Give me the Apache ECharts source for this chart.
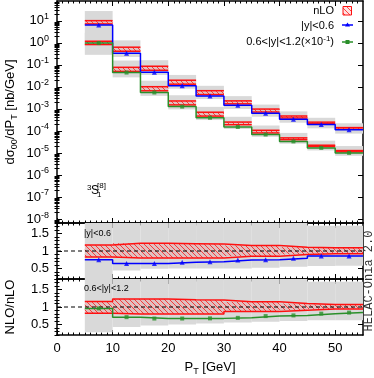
<!DOCTYPE html>
<html>
<head>
<meta charset="utf-8">
<script src="https://cdn.jsdelivr.net/npm/echarts@6/dist/echarts.min.js"></script>
<style>
  html, body { margin: 0; padding: 0; background: #fff; }
  #chart { width: 374px; height: 378px; }
</style>
</head>
<body>
<div id="chart"></div>
<script>
// PT bins (GeV)
var edges = [5, 10, 15, 20, 25, 30, 35, 40, 45, 50, 55];

// nLO central values, dsigma00/dPT in nb/GeV (second rapidity bin already x 1e-1)
var nloCentralA = [8.7, 0.52, 0.071, 0.0166, 0.0056, 0.0020, 8.5e-4, 4.3e-4, 2.3e-4, 1.3e-4];
var nloCentralB = [1.02, 0.063, 0.0083, 0.0019, 5.9e-4, 2.2e-4, 9.3e-5, 4.4e-5, 2.1e-5, 1.2e-5];

// |y|<0.6, everything relative to nLO central
var nloLowA   = [0.83, 0.80, 0.80, 0.80, 0.80, 0.85, 0.85, 0.90, 0.92, 0.92];
var nloHighA  = [1.17, 1.22, 1.22, 1.21, 1.20, 1.16, 1.16, 1.11, 1.09, 1.09];
var nlo2A     = [0.75, 0.645, 0.645, 0.68, 0.69, 0.74, 0.75, 0.79, 0.86, 0.86];
var grayLowA  = [0.15, 0.44, 0.49, 0.50, 0.50, 0.50, 0.52, 0.55, 0.57, 0.58];
var grayHighA = [3.2, 2.5, 2.3, 2.1, 2.0, 1.9, 1.85, 1.8, 1.72, 1.72];

// 0.6<|y|<1.2
var nloLowB   = [0.82, 0.80, 0.80, 0.80, 0.80, 0.87, 0.87, 0.91, 0.94, 0.94];
var nloHighB  = [1.16, 1.23, 1.23, 1.21, 1.20, 1.15, 1.15, 1.10, 1.07, 1.07];
var nlo2B     = [0.96, 0.71, 0.67, 0.67, 0.675, 0.69, 0.74, 0.76, 0.81, 0.84];
var grayLowB  = [0.28, 0.43, 0.47, 0.50, 0.53, 0.56, 0.58, 0.60, 0.62, 0.62];
var grayHighB = [2.8, 2.5, 2.3, 2.2, 2.1, 2.0, 1.9, 1.85, 1.72, 1.72];

// axis ticks
var ptTicks = [0, 10, 20, 30, 40, 50];
var logTicks = [1e-8, 1e-7, 1e-6, 1e-5, 1e-4, 1e-3, 1e-2, 1e-1, 1, 10];
var ratioTicks = [0.5, 1, 1.5];

var font = 'Liberation Sans';
var RED = '#ff1010', BLUE = '#0000ff', GREEN = '#2a8f2a', GRAY = '#d9d9d9';

var chart = echarts.init(document.getElementById('chart'));

function hatch() {
  var c = document.createElement('canvas');
  c.width = 5; c.height = 5;
  var g = c.getContext('2d');
  g.fillStyle = 'rgba(255,60,60,0.16)';
  g.fillRect(0, 0, 5, 5);
  g.strokeStyle = 'rgba(255,0,0,0.7)';
  g.lineWidth = 1;
  g.beginPath();
  g.moveTo(-1, -1); g.lineTo(6, 6);
  g.moveTo(-3.5, 1.5); g.lineTo(3.5, 8.5);
  g.moveTo(1.5, -3.5); g.lineTo(8.5, 3.5);
  g.stroke();
  return c;
}
var hatchFill = { image: hatch(), repeat: 'repeat' };

function times(a, b) { return a.map(function (v, i) { return v * b[i]; }); }
function stepData(vals) {
  return edges.map(function (x, i) { return [x, vals[Math.min(i, vals.length - 1)]]; });
}
var centers = edges.slice(0, -1).map(function (e, i) { return (e + edges[i + 1]) / 2; });

// ---- axes: 3 stacked grids, each with major + minor ticks on all 4 sides
var xAxes = [], yAxes = [];
var ptMinor = [];
for (var k = 1; k < 55; k++) if (k % 10) ptMinor.push(k);
var logMinor = [];
for (var n = -9; n <= 1; n++) for (var m = 2; m <= 9; m++) logMinor.push(+(m * Math.pow(10, n)).toPrecision(3));
var ratioMinor = [];
for (var r = 2; r <= 18; r++) if (r % 5) ratioMinor.push(r / 10);

function addX(g, labels) {
  ['bottom', 'top'].forEach(function (pos) {
    xAxes.push({
      type: 'value', gridIndex: g, position: pos, min: 0, max: 55,
      axisLine: { show: true, onZero: false, lineStyle: { color: '#000', width: 1.5 } },
      axisTick: { show: true, inside: true, length: 5, customValues: ptTicks, lineStyle: { color: '#000' } },
      axisLabel: { show: labels && pos === 'bottom', customValues: ptTicks, fontFamily: font, fontSize: 13, color: '#000', margin: 7 },
      splitLine: { show: false }
    });
    xAxes.push({
      type: 'value', gridIndex: g, position: pos, min: 0, max: 55,
      axisLine: { show: false },
      axisTick: { show: true, inside: true, length: 2.5, customValues: ptMinor, lineStyle: { color: '#000' } },
      axisLabel: { show: false }, splitLine: { show: false }
    });
  });
}

function addY(g, type, min, max, major, minor, label) {
  ['left', 'right'].forEach(function (pos) {
    yAxes.push({
      type: type, gridIndex: g, position: pos, min: min, max: max,
      axisLine: { show: true, onZero: false, lineStyle: { color: '#000', width: 1.5 } },
      axisTick: { show: true, inside: true, length: 5, customValues: major, lineStyle: { color: '#000' } },
      axisLabel: Object.assign({ show: pos === 'left', customValues: major, color: '#000', fontFamily: font, margin: 8 }, label),
      splitLine: { show: false }
    });
    yAxes.push({
      type: type, gridIndex: g, position: pos, min: min, max: max,
      axisLine: { show: false },
      axisTick: { show: true, inside: true, length: 2.5, customValues: minor, lineStyle: { color: '#000' } },
      axisLabel: { show: false }, splitLine: { show: false }
    });
  });
}

addX(0, false); addX(1, false); addX(2, true);
addY(0, 'log', Math.pow(10, -8.18), Math.pow(10, 1.9), logTicks, logMinor, {
  fontSize: 13,
  formatter: function (v) { return '{b|10}{e|' + Math.round(Math.log10(v)) + '}'; },
  rich: {
    b: { fontSize: 13, fontFamily: font, color: '#000', lineHeight: 17 },
    e: { fontSize: 9, fontFamily: font, color: '#000', verticalAlign: 'top' }
  }
});
addY(1, 'value', 0.2, 1.8, ratioTicks, ratioMinor, { fontSize: 13 });
addY(2, 'value', 0.2, 1.8, ratioTicks, ratioMinor, { fontSize: 13 });

// ---- series helpers
function band(g, lows, highs, fill, z, edgesOn) {
  var data = lows.map(function (lo, i) { return [edges[i], edges[i + 1], lo, highs[i]]; });
  return {
    type: 'custom', xAxisIndex: 4 * g, yAxisIndex: 4 * g, z: z, silent: true,
    data: data, encode: { x: [0, 1], y: [2, 3] },
    renderItem: function (params, api) {
      var a = api.coord([api.value(0), api.value(3)]);
      var b = api.coord([api.value(1), api.value(2)]);
      var rect = echarts.graphic.clipRectByRect(
        { x: a[0], y: a[1], width: b[0] - a[0], height: b[1] - a[1] }, params.coordSys);
      if (!rect) return;
      var kids = [{ type: 'rect', shape: rect, style: { fill: fill } }];
      if (edgesOn) {
        kids.push({ type: 'line', shape: { x1: a[0], y1: a[1], x2: b[0], y2: a[1] }, style: { stroke: RED, lineWidth: 1.5 } });
        kids.push({ type: 'line', shape: { x1: a[0], y1: b[1], x2: b[0], y2: b[1] }, style: { stroke: RED, lineWidth: 1.5 } });
      }
      return { type: 'group', children: kids };
    }
  };
}
function step(g, vals, color, z, width) {
  return {
    type: 'line', xAxisIndex: 4 * g, yAxisIndex: 4 * g, z: z, step: 'end', silent: true,
    data: stepData(vals), showSymbol: false, symbol: 'none',
    lineStyle: { color: color, width: width || 1.5 }
  };
}
function marks(g, vals, color, symbol, size) {
  return {
    type: 'scatter', xAxisIndex: 4 * g, yAxisIndex: 4 * g, z: 9, silent: true,
    data: centers.map(function (c, i) { return [c, vals[i]]; }),
    symbol: symbol, symbolSize: size, itemStyle: { color: color }
  };
}
function unity(g) {
  return {
    type: 'line', xAxisIndex: 4 * g, yAxisIndex: 4 * g, z: 6, silent: true,
    data: [[0, 1], [55, 1]], symbol: 'none',
    lineStyle: { color: '#000', width: 1, type: [4, 3] }
  };
}

var nloA = times(nloCentralA, nlo2A);
var nloB = times(nloCentralB, nlo2B);

var series = [
  // main panel
  band(0, times(nloCentralA, grayLowA), times(nloCentralA, grayHighA), GRAY, 1, false),
  band(0, times(nloCentralB, grayLowB), times(nloCentralB, grayHighB), GRAY, 1, false),
  band(0, times(nloCentralA, nloLowA), times(nloCentralA, nloHighA), hatchFill, 3, true),
  band(0, times(nloCentralB, nloLowB), times(nloCentralB, nloHighB), hatchFill, 3, true),
  step(0, nloA, BLUE, 5),
  step(0, nloB, GREEN, 5),
  marks(0, nloA, BLUE, 'triangle', 5),
  marks(0, nloB, GREEN, 'rect', 4),
  // ratio |y|<0.6
  band(1, grayLowA, grayHighA, GRAY, 1, false),
  band(1, nloLowA, nloHighA, hatchFill, 3, false),
  step(1, nloLowA, RED, 4), step(1, nloHighA, RED, 4),
  unity(1),
  step(1, nlo2A, BLUE, 7),
  marks(1, nlo2A, BLUE, 'triangle', 5),
  // ratio 0.6<|y|<1.2
  band(2, grayLowB, grayHighB, GRAY, 1, false),
  band(2, nloLowB, nloHighB, hatchFill, 3, false),
  step(2, nloLowB, RED, 4), step(2, nloHighB, RED, 4),
  unity(2),
  step(2, nlo2B, GREEN, 7),
  marks(2, nlo2B, GREEN, 'rect', 4)
];

function txt(x, y, text, size, extra) {
  return Object.assign({
    type: 'text', x: x, y: y, z: 20, silent: true,
    style: Object.assign({ text: text, fontFamily: font, fontSize: size, fill: '#000', align: 'left', verticalAlign: 'middle' }, (extra || {}).style)
  }, extra ? { rotation: extra.rotation || 0 } : {});
}

var richMain = {
  a: { fontSize: 13, fontFamily: font, fill: '#000', lineHeight: 18 },
  s: { fontSize: 9, fontFamily: font, fill: '#000', verticalAlign: 'bottom', lineHeight: 12 }
};

var graphic = [
  // axis titles
  txt(10, 112, '{a|dσ}{s|00}{a|/dP}{s|T}{a| [nb/GeV]}', 13, { rotation: Math.PI / 2, style: { align: 'center', rich: richMain } }),
  txt(10, 307, 'NLO/nLO', 13, { rotation: Math.PI / 2, style: { align: 'center' } }),
  txt(210, 367, '{a|P}{s|T}{a| [GeV]}', 13, { style: { align: 'center', rich: richMain } }),
  txt(369, 281, 'HELAC-Onia 2.0', 12, { rotation: Math.PI / 2, style: { align: 'center', fontFamily: 'Liberation Mono', fill: '#333' } }),
  // state label
  txt(87, 188, '3', 8), txt(91, 191, 'S', 12), txt(97, 186, '[8]', 8), txt(97, 195, '1', 8),
  // panel labels
  txt(84, 234, '|y|<0.6', 9), txt(84, 289, '0.6<|y|<1.2', 9),
  // legend
  txt(334, 11, 'nLO', 11, { style: { align: 'right' } }),
  { type: 'rect', z: 20, shape: { x: 343, y: 6.5, width: 8.5, height: 8.5 }, style: { fill: hatchFill, stroke: RED, lineWidth: 1 } },
  txt(334, 26, '|y|<0.6', 11, { style: { align: 'right' } }),
  { type: 'line', z: 20, shape: { x1: 342, y1: 25, x2: 353, y2: 25 }, style: { stroke: BLUE, lineWidth: 1.5 } },
  { type: 'polygon', z: 21, shape: { points: [[347.5, 22.5], [350, 26.5], [345, 26.5]] }, style: { fill: BLUE } },
  txt(334, 42, '{a|0.6<|y|<1.2(×10}{e|-1}{a|)}', 11, { style: { align: 'right', rich: {
    a: { fontSize: 11, fontFamily: font, fill: '#000', lineHeight: 15 },
    e: { fontSize: 8, fontFamily: font, fill: '#000', verticalAlign: 'top' } } } }),
  { type: 'line', z: 20, shape: { x1: 342, y1: 42, x2: 353, y2: 42 }, style: { stroke: GREEN, lineWidth: 1.5 } },
  { type: 'rect', z: 21, shape: { x: 345.5, y: 40, width: 4, height: 4 }, style: { fill: GREEN } }
];

chart.setOption({
  animation: false,
  backgroundColor: '#fff',
  grid: [
    { left: 57, top: 1, width: 306, height: 222 },
    { left: 57, top: 223, width: 306, height: 56 },
    { left: 57, top: 279, width: 306, height: 56 }
  ],
  xAxis: xAxes,
  yAxis: yAxes,
  series: series,
  graphic: graphic
});
</script>
</body>
</html>
